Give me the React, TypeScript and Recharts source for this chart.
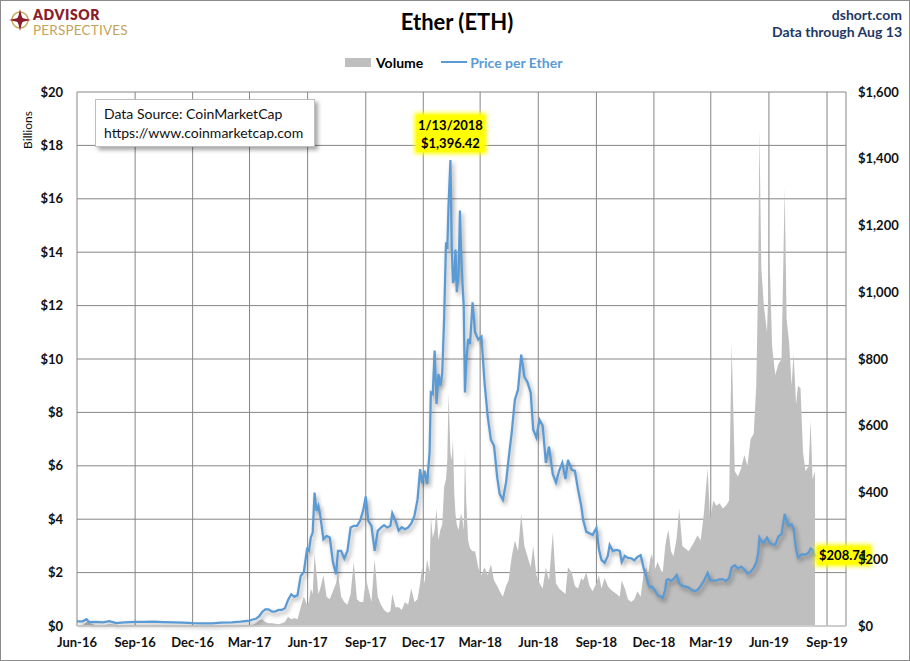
import React from 'react'
import {
  ComposedChart,
  Area,
  Line,
  XAxis,
  YAxis,
  CartesianGrid,
  ReferenceDot,
} from 'recharts'

// sample dates (roughly every 5 days once the market wakes up in 2017)
const dates = [
  '2016-06-01', '2016-06-10', '2016-06-16', '2016-06-20', '2016-07-01', '2016-07-12', '2016-07-22',
  '2016-08-02', '2016-08-15', '2016-09-01', '2016-09-15', '2016-10-01', '2016-10-15', '2016-11-01',
  '2016-11-15', '2016-12-01', '2016-12-15',
  '2017-01-01', '2017-01-15', '2017-02-01', '2017-02-15',
  '2017-03-01', '2017-03-06', '2017-03-11', '2017-03-16', '2017-03-21', '2017-03-26', '2017-03-31',
  '2017-04-06', '2017-04-11', '2017-04-16', '2017-04-21', '2017-04-26',
  '2017-05-01', '2017-05-06', '2017-05-11', '2017-05-16', '2017-05-21', '2017-05-26', '2017-05-31',
  '2017-06-03', '2017-06-06', '2017-06-09', '2017-06-12', '2017-06-15', '2017-06-18', '2017-06-21', '2017-06-26',
  '2017-07-01', '2017-07-06', '2017-07-11', '2017-07-16', '2017-07-19', '2017-07-24', '2017-07-29',
  '2017-08-03', '2017-08-08', '2017-08-13', '2017-08-18', '2017-08-23', '2017-08-28',
  '2017-09-01', '2017-09-05', '2017-09-10', '2017-09-15', '2017-09-20', '2017-09-25', '2017-09-30',
  '2017-10-05', '2017-10-10', '2017-10-13', '2017-10-18', '2017-10-23', '2017-10-28',
  '2017-11-02', '2017-11-07', '2017-11-12', '2017-11-17', '2017-11-22', '2017-11-26', '2017-11-29',
  '2017-12-03', '2017-12-07', '2017-12-11', '2017-12-13', '2017-12-16', '2017-12-19', '2017-12-22',
  '2017-12-25', '2017-12-28', '2017-12-31',
  '2018-01-03', '2018-01-06', '2018-01-08', '2018-01-10', '2018-01-13', '2018-01-15', '2018-01-17',
  '2018-01-19', '2018-01-21', '2018-01-23', '2018-01-26', '2018-01-28', '2018-01-30',
  '2018-02-01', '2018-02-03', '2018-02-05', '2018-02-07', '2018-02-10', '2018-02-13', '2018-02-17',
  '2018-02-21', '2018-02-26',
  '2018-03-03', '2018-03-08', '2018-03-13', '2018-03-18', '2018-03-23', '2018-03-28',
  '2018-04-01', '2018-04-06', '2018-04-11', '2018-04-15', '2018-04-20', '2018-04-25', '2018-04-30',
  '2018-05-05', '2018-05-10', '2018-05-15', '2018-05-20', '2018-05-24', '2018-05-29',
  '2018-06-03', '2018-06-08', '2018-06-13', '2018-06-18', '2018-06-24', '2018-06-29',
  '2018-07-04', '2018-07-09', '2018-07-14', '2018-07-18', '2018-07-24', '2018-07-29',
  '2018-08-03', '2018-08-08', '2018-08-11', '2018-08-16', '2018-08-21', '2018-08-26',
  '2018-09-01', '2018-09-05', '2018-09-09', '2018-09-14', '2018-09-19', '2018-09-22', '2018-09-27',
  '2018-10-03', '2018-10-08', '2018-10-11', '2018-10-16', '2018-10-21', '2018-10-26', '2018-10-31',
  '2018-11-05', '2018-11-10', '2018-11-15', '2018-11-19', '2018-11-22', '2018-11-25', '2018-11-28',
  '2018-12-02', '2018-12-07', '2018-12-12', '2018-12-15', '2018-12-19', '2018-12-21', '2018-12-24', '2018-12-28',
  '2019-01-01', '2019-01-06', '2019-01-10', '2019-01-15', '2019-01-20', '2019-01-25', '2019-01-30',
  '2019-02-04', '2019-02-08', '2019-02-13', '2019-02-18', '2019-02-24', '2019-02-28',
  '2019-03-05', '2019-03-10', '2019-03-15', '2019-03-20', '2019-03-25', '2019-03-30',
  '2019-04-03', '2019-04-08', '2019-04-13', '2019-04-18', '2019-04-23', '2019-04-28',
  '2019-05-03', '2019-05-08', '2019-05-12', '2019-05-15', '2019-05-17', '2019-05-20', '2019-05-24', '2019-05-29',
  '2019-06-02', '2019-06-06', '2019-06-11', '2019-06-16', '2019-06-21', '2019-06-26', '2019-06-29',
  '2019-07-03', '2019-07-07', '2019-07-10', '2019-07-14', '2019-07-17', '2019-07-21', '2019-07-25', '2019-07-29',
  '2019-08-03', '2019-08-06', '2019-08-09', '2019-08-13',
]

// price per ether, USD
const price = [
  14.0, 14.0, 20.5, 11.8, 12.4, 10.6, 14.4,
  8.8, 11.2, 12.1, 12.0, 13.2, 11.9, 10.9,
  10.0, 8.5, 7.8,
  8.2, 9.9, 10.7, 12.8,
  16.1, 19.5, 21.5, 28.5, 42, 50, 50,
  43, 44, 48, 48, 53,
  78, 95, 88, 92, 150, 162, 230,
  225, 265, 280, 400, 345, 360, 330, 260,
  270, 265, 192, 155, 225, 225, 202,
  225, 295, 300, 300, 315, 347,
  388, 315, 300, 225, 285, 295, 302,
  295, 300, 338, 316, 286, 296,
  290, 295, 307, 330, 380, 470, 428,
  465, 425, 520, 700, 695, 825, 665,
  755, 720, 756,
  920, 1150, 1130, 1260, 1396.42, 1140, 1028,
  1040, 1128, 1000, 1060, 1245, 1110,
  1030, 960, 700, 790, 860, 845, 970,
  880, 858,
  867, 729, 627, 558, 540, 445,
  395, 378, 430, 500, 580, 678, 708,
  813, 747, 730, 699, 588, 565,
  618, 600, 489, 537, 455, 430,
  465, 489, 440, 498, 468, 465,
  408, 360, 318, 282, 278, 273,
  294, 230, 198, 189, 210, 243, 225,
  228, 225, 192, 210, 204, 203, 197,
  207, 212, 172, 148, 125, 115, 118,
  108, 92, 88, 84, 110, 138, 140, 135,
  140, 153, 128, 120, 118, 115, 107,
  105, 108, 120, 135, 159, 138,
  136, 137, 140, 140, 135, 143,
  176, 182, 172, 178, 170, 158,
  162, 175, 190, 217, 265, 255, 250, 265,
  250, 245, 244, 268, 275, 336, 315,
  300, 305, 291, 230, 205, 212, 215, 214,
  220, 232, 229, 208.71,
]

// trading volume, USD billions
const volume = [
  0.02, 0.03, 0.15, 0.12, 0.03, 0.02, 0.07,
  0.05, 0.02, 0.02, 0.02, 0.03, 0.01, 0.02,
  0.01, 0.02, 0.01,
  0.01, 0.02, 0.01, 0.02,
  0.05, 0.05, 0.1, 0.2, 0.25, 0.15, 0.1,
  0.1, 0.08, 0.07, 0.1, 0.15,
  0.35, 0.25, 0.3, 0.25, 0.7, 1.1, 0.8,
  0.9, 1.4, 1.2, 2.7, 2.0, 1.2, 1.4, 1.9,
  1.1, 1.0, 1.3, 1.6, 2.0, 1.1, 0.9,
  0.8, 1.2, 2.4, 1.0, 0.9, 0.9,
  1.8, 1.4, 0.9, 2.5, 1.1, 0.8, 0.6,
  0.5, 0.55, 1.2, 0.7, 0.7, 0.6,
  0.9, 0.8, 1.4, 0.9, 1.0, 1.6, 2.2,
  1.6, 2.5, 2.0, 4.1, 3.3, 3.6, 4.4,
  3.2, 3.6, 3.8,
  5.2, 5.5, 6.2, 8.7, 6.5, 6.2, 7.0,
  5.0, 4.2, 3.8, 3.6, 4.0, 4.2,
  4.0, 3.6, 6.5, 4.7, 3.2, 2.9, 2.8,
  2.8, 2.2,
  1.9, 2.2, 1.9, 2.3, 1.7, 1.5,
  1.3, 1.1, 1.5, 1.7, 2.6, 3.2, 2.8,
  4.2, 3.0, 2.6, 2.2, 3.0, 1.9,
  1.6, 1.4, 2.2, 1.7, 3.5, 1.6,
  1.4, 1.3, 1.2, 2.2, 2.0, 1.5,
  1.4, 1.8, 1.7, 2.0, 1.5, 1.3,
  1.6, 1.9, 1.4, 1.8, 1.5, 1.4, 1.3,
  1.2, 1.1, 1.7, 1.4, 1.0, 0.9, 1.0,
  1.3, 1.1, 2.0, 2.2, 1.9, 2.5, 2.7,
  2.1, 2.4, 2.1, 2.0, 3.0, 3.3, 3.6, 2.8,
  2.6, 3.3, 4.4, 3.0, 2.9, 2.8, 3.0,
  3.2, 3.4, 3.2, 4.2, 5.9, 4.0,
  4.7, 4.5, 4.6, 4.4, 4.5, 4.7,
  10.6, 5.8, 5.6, 5.9, 6.4, 6.0,
  7.0, 7.2, 9.0, 13.0, 18.6, 13.4, 12.0, 11.0,
  14.0, 10.5, 9.4, 9.8, 10.0, 16.4, 11.5,
  10.6, 9.0, 10.2, 8.3, 9.0, 8.9, 6.5, 5.8,
  6.0, 7.7, 5.5, 5.8,
]

const quarterTicks = [
  '2016-06-01', '2016-09-01', '2016-12-01', '2017-03-01', '2017-06-01', '2017-09-01', '2017-12-01',
  '2018-03-01', '2018-06-01', '2018-09-01', '2018-12-01', '2019-03-01', '2019-06-01', '2019-09-01',
]
const axisEnd = '2019-10-01'
const volumeTicks = [0, 2, 4, 6, 8, 10, 12, 14, 16, 18, 20]
const priceTicks = [0, 200, 400, 600, 800, 1000, 1200, 1400, 1600]
const peakDate = '2018-01-13'
const lastDate = '2019-08-13'

const MONTHS = ['Jan', 'Feb', 'Mar', 'Apr', 'May', 'Jun', 'Jul', 'Aug', 'Sep', 'Oct', 'Nov', 'Dec']
const FONT = "Lato, 'Open Sans', sans-serif"
const BLUE = '#5B9BD5'
const GRAY = '#BFBFBF'

function toTime(d: string) {
  const [y, m, day] = d.split('-').map(Number)
  return Date.UTC(y, m - 1, day)
}

function fmtTick(t: number) {
  const d = new Date(t)
  return `${MONTHS[d.getUTCMonth()]}-${String(d.getUTCFullYear()).slice(2)}`
}

function fmtUsd(v: number, digits = 0) {
  return `$${v.toLocaleString('en-US', { minimumFractionDigits: digits, maximumFractionDigits: digits })}`
}

const chartData = dates.map((d, i) => ({ t: toTime(d), volume: volume[i], price: price[i] }))
const peakPrice = price[dates.indexOf(peakDate)]
const lastPrice = price[dates.indexOf(lastDate)]

function PeakTag(props: any) {
  const vb = props.viewBox
  const cx = vb.x + vb.width / 2
  const cy = vb.y + vb.height / 2
  const [y, m, d] = peakDate.split('-').map(Number)
  return (
    <g>
      <rect x={cx - 36} y={cy - 47} width={72} height={41} fill="#FFFF00" filter="url(#glow)" />
      <rect x={cx - 34} y={cy - 45} width={68} height={37} fill="#FFFF00" />
      <text x={cx} y={cy - 30} textAnchor="middle" fontFamily={FONT} fontWeight={700} fontSize={13} fill="#000">
        {`${m}/${d}/${y}`}
      </text>
      <text x={cx} y={cy - 12} textAnchor="middle" fontFamily={FONT} fontWeight={700} fontSize={13} fill="#000">
        {fmtUsd(peakPrice, 2)}
      </text>
    </g>
  )
}

function LastTag(props: any) {
  const vb = props.viewBox
  const cx = vb.x + vb.width / 2
  const cy = vb.y + vb.height / 2
  return (
    <g>
      <rect x={cx} y={cy - 12} width={57} height={22} fill="#FFFF00" filter="url(#glow)" />
      <rect x={cx + 2} y={cy - 10} width={53} height={18} fill="#FFFF00" />
      <text x={cx + 4} y={cy + 4} fontFamily={FONT} fontWeight={700} fontSize={13} fill="#000">
        {fmtUsd(lastPrice, 2)}
      </text>
    </g>
  )
}

function Logo() {
  return (
    <svg width={140} height={40} style={{ position: 'absolute', left: 5, top: 3 }}>
      <circle cx={15} cy={17} r={8} fill="none" stroke="#C9A85C" strokeWidth={1.5} />
      <path d="M15 6 L17 15 L26 17 L17 19 L15 28 L13 19 L4 17 L13 15 Z" fill="#8B1E2B" />
      <path d="M15 11 L19 17 L15 23 L11 17 Z" fill="#8B1E2B" />
      <text x={28} y={17} fontFamily={FONT} fontWeight={800} fontSize={14} fill="#8B1E2B" letterSpacing={0.6}>
        ADVISOR
      </text>
      <text x={28} y={32} fontFamily={FONT} fontWeight={400} fontSize={13.5} fill="#C4A45A" letterSpacing={0.2}>
        PERSPECTIVES
      </text>
    </svg>
  )
}

export default function App() {
  const tickStyle = { fontSize: 13, fill: '#111', fontFamily: FONT, fontWeight: 700 }
  return (
    <div
      style={{
        position: 'absolute',
        left: 0,
        top: 0,
        width: 910,
        height: 661,
        background: '#fff',
        fontFamily: FONT,
        overflow: 'hidden',
      }}
    >
      <style>{`.price-line { filter: drop-shadow(2px 3px 2px rgba(0,0,0,0.35)); }`}</style>
      <svg width={0} height={0} style={{ position: 'absolute' }}>
        <defs>
          <filter id="glow" x="-20%" y="-40%" width="140%" height="180%">
            <feGaussianBlur stdDeviation={2} />
          </filter>
        </defs>
      </svg>

      <Logo />

      <div style={{ position: 'absolute', left: 0, width: 910, top: 8, textAlign: 'center', fontSize: 22, fontWeight: 700, color: '#000', paddingLeft: 2 }}>
        Ether (ETH)
      </div>
      <div style={{ position: 'absolute', right: 8, top: 6, textAlign: 'right', fontSize: 14, fontWeight: 700, color: '#1F3864', lineHeight: '17px' }}>
        <div>dshort.com</div>
        <div>Data through Aug 13</div>
      </div>

      {/* legend */}
      <div style={{ position: 'absolute', left: 345, top: 53, height: 18, display: 'flex', alignItems: 'center', fontSize: 14, fontWeight: 700 }}>
        <span style={{ display: 'inline-block', width: 26, height: 9, background: GRAY, marginRight: 5 }} />
        <span style={{ color: '#000' }}>Volume</span>
        <span style={{ display: 'inline-block', width: 26, height: 2.5, background: BLUE, marginLeft: 18, marginRight: 3 }} />
        <span style={{ color: BLUE }}>Price per Ether</span>
      </div>

      <ComposedChart
        width={910}
        height={661}
        data={chartData}
        margin={{ top: 92, right: 4, bottom: 5, left: 17 }}
      >
        <CartesianGrid yAxisId="vol" stroke="#868686" strokeWidth={1} />
        <XAxis
          dataKey="t"
          type="number"
          domain={[toTime(quarterTicks[0]), toTime(axisEnd)]}
          ticks={quarterTicks.map(toTime)}
          tickFormatter={fmtTick}
          interval={0}
          tick={tickStyle}
          tickLine={false}
          tickSize={0}
          tickMargin={12}
          axisLine={{ stroke: '#D9D9D9' }}
          height={30}
        />
        <YAxis
          yAxisId="vol"
          orientation="left"
          domain={[0, 20]}
          ticks={volumeTicks}
          tickFormatter={(v) => `$${v}`}
          tick={tickStyle}
          axisLine={false}
          tickLine={false}
          tickSize={0}
          tickMargin={14}
          width={60}
        />
        <YAxis
          yAxisId="price"
          orientation="right"
          domain={[0, 1600]}
          ticks={priceTicks}
          tickFormatter={(v) => fmtUsd(v)}
          tick={tickStyle}
          axisLine={false}
          tickLine={false}
          tickSize={0}
          tickMargin={12}
          width={60}
        />
        <Area
          yAxisId="vol"
          dataKey="volume"
          type="linear"
          fill={GRAY}
          fillOpacity={1}
          stroke="none"
          isAnimationActive={false}
        />
        <Line
          yAxisId="price"
          dataKey="price"
          type="linear"
          stroke={BLUE}
          strokeWidth={2.25}
          dot={false}
          className="price-line"
          isAnimationActive={false}
        />
        <ReferenceDot
          yAxisId="price"
          x={toTime(peakDate)}
          y={peakPrice}
          r={1}
          fill="none"
          stroke="none"
          label={{ content: (p: any) => <PeakTag {...p} /> }}
        />
        <ReferenceDot
          yAxisId="price"
          x={toTime(lastDate)}
          y={lastPrice}
          r={1}
          fill="none"
          stroke="none"
          label={{ content: (p: any) => <LastTag {...p} /> }}
        />
      </ComposedChart>

      {/* Billions axis caption */}
      <svg width={40} height={80} style={{ position: 'absolute', left: 12, top: 100 }}>
        <text x={15} y={30} transform="rotate(-90 15 30)" textAnchor="middle" dominantBaseline="central" fontFamily={FONT} fontSize={12} fill="#111">
          Billions
        </text>
      </svg>

      {/* source box */}
      <div
        style={{
          position: 'absolute',
          left: 95,
          top: 99,
          width: 220,
          height: 48,
          boxSizing: 'border-box',
          background: '#fff',
          border: '1px solid #BFBFBF',
          boxShadow: '3px 3px 4px rgba(0,0,0,0.35)',
          padding: '4px 0 0 8px',
          fontSize: 14,
          lineHeight: '19px',
          color: '#111',
        }}
      >
        <div>Data Source: CoinMarketCap</div>
        <div>https://www.coinmarketcap.com</div>
      </div>

      <div style={{ position: 'absolute', inset: 0, border: '1px solid #8C8C8C', pointerEvents: 'none' }} />
    </div>
  )
}
